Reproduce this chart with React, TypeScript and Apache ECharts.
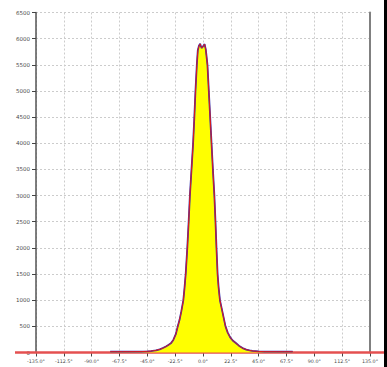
import React, { useEffect, useRef } from "react";
import * as echarts from "echarts";

// Angle (degrees) and count readings of the distribution
const angles: number[] = [
  -75, -70, -65, -60, -55, -50, -45, -42, -40, -38, -35, -32, -30, -28, -26, -24, -22, -20.4, -19, -17.5,
  -15.9, -15, -14, -12.7, -11.6, -10.6, -9.3, -8.0, -7.0, -6.1, -5.0, -4.2, -3.2, -2.3, -1.6, -1.0, 0.2,
  1.3, 2.2, 2.7, 3.6, 4.7, 5.8, 6.9, 8.0, 9.2, 10.1, 10.9, 11.8, 12.6, 13.7, 15.5, 18.2, 20, 22, 24, 26.8,
  29, 32, 35, 37.6, 40, 45, 50, 55, 60, 65, 70, 72.5,
];
const counts: number[] = [
  15, 15, 16, 16, 17, 18, 22, 28, 34, 42, 60, 90, 115, 145, 175, 240, 350, 500, 620, 790,
  1000, 1220, 1500, 2000, 2500, 3000, 3500, 4000, 4500, 5000, 5500, 5780, 5870, 5900, 5850, 5820, 5860,
  5895, 5800, 5700, 5500, 5000, 4500, 4000, 3500, 3000, 2500, 2000, 1500, 1250, 1000, 800, 500, 380, 290, 230, 176,
  130, 85, 55, 40, 30, 20, 17, 16, 15, 15, 15, 15,
];
const xMin = -135;
const xMax = 135;
const xStep = 22.5;
const yMax = 6500;
const yStep = 500;

export default function App() {
  const ref = useRef<HTMLDivElement>(null);
  useEffect(() => {
    if (!ref.current) return;
    const chart = echarts.init(ref.current, undefined, { renderer: "svg" });
    const data = angles.map((a, i) => [a, counts[i]]);
    const labelStyle = { color: "#4a4a4a", fontFamily: "DejaVu Sans" };
    chart.setOption({
      animation: false,
      backgroundColor: "#ffffff",
      grid: { left: 36, right: 17, top: 12.5, bottom: 14.5 },
      xAxis: {
        type: "value",
        min: xMin,
        max: xMax,
        interval: xStep,
        axisLine: { show: false, onZero: false },
        axisTick: { show: true, length: 4, lineStyle: { color: "#444", width: 1 } },
        axisLabel: {
          ...labelStyle,
          fontSize: 4.8,
          margin: 6,
          formatter: (v: number) => v.toFixed(1) + "°",
        },
        splitLine: { show: true, lineStyle: { color: "#cccccc", type: [2, 2], width: 1 } },
      },
      yAxis: [
        {
          type: "value",
          min: 0,
          max: yMax,
          interval: yStep,
          axisLine: { show: true, onZero: false, lineStyle: { color: "#555", width: 1.5 } },
          axisTick: { show: true, length: 4, lineStyle: { color: "#444", width: 1 } },
          axisLabel: { ...labelStyle, fontSize: 5.5, margin: 6, formatter: (v: number) => String(v) },
          splitLine: { show: true, lineStyle: { color: "#cccccc", type: [2, 2], width: 1 } },
        },
        {
          type: "value",
          position: "right",
          min: 0,
          max: yMax,
          interval: yStep,
          axisLine: { show: true, onZero: false, lineStyle: { color: "#808080", width: 2 } },
          axisTick: { show: false },
          axisLabel: { show: false },
          splitLine: { show: false },
        },
      ],
      series: [
        {
          type: "line",
          data,
          symbol: "none",
          z: 3,
          lineStyle: { color: "#3434b4", width: 1.8 },
          areaStyle: { color: "#ffff00", opacity: 1 },
        },
        {
          type: "line",
          data,
          symbol: "none",
          z: 4,
          lineStyle: { color: "#e01818", width: 1 },
        },
      ],
    });
    const y0 = chart.convertToPixel({ yAxisIndex: 0 }, 0) as number;
    chart.setOption({
      graphic: [
        {
          type: "line",
          z: 1,
          shape: { x1: 15, y1: y0, x2: 385, y2: y0 },
          style: { stroke: "#e45050", lineWidth: 2.5 },
        },
        {
          type: "rect",
          z: 10,
          shape: { x: 384, y: 0, width: 3, height: 367 },
          style: { fill: "#000000" },
        },
      ],
    });
    return () => chart.dispose();
  }, []);
  return (
    <div
      ref={ref}
      style={{ position: "absolute", left: 0, top: 0, width: 387, height: 367, background: "#fff" }}
    />
  );
}
